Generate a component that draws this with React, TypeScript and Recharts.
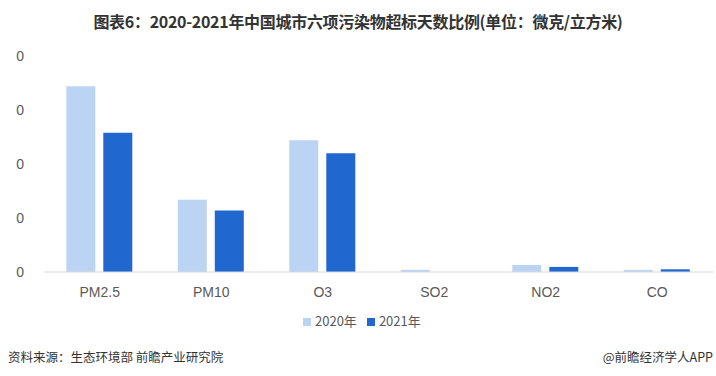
import { BarChart, Bar, XAxis, YAxis, Legend } from "recharts"

// pollutant categories
const POLLUTANTS = ["PM2.5", "PM10", "O3", "SO2", "NO2", "CO"]
// share of exceedance days
const Y2020 = [0.172, 0.067, 0.122, 0.002, 0.0065, 0.002]
const Y2021 = [0.129, 0.057, 0.11, 0, 0.0047, 0.0025]
const Y_TICKS = [0, 0.05, 0.1, 0.15, 0.2]

const data = POLLUTANTS.map((name, i) => ({ name, y2020: Y2020[i], y2021: Y2021[i] }))

const FONT = '"Noto Sans CJK SC", "Noto Sans", sans-serif'
const AXIS_FONT = '"Liberation Sans", "Noto Sans CJK SC", sans-serif'

export default function App() {
  return (
    <div style={{ position: "absolute", left: 0, top: 0, width: 716, height: 376, background: "#fff", fontFamily: FONT }}>
      <div
        style={{
          position: "absolute",
          top: 9,
          left: 0,
          width: 716,
          textAlign: "center",
          fontSize: 16,
          fontWeight: 700,
          color: "#333",
          letterSpacing: -0.3,
        }}
      >
        图表6：2020-2021年中国城市六项污染物超标天数比例(单位：微克/立方米)
      </div>

      <div style={{ position: "absolute", top: 0, left: 0 }}>
        <BarChart
          width={716}
          height={376}
          data={data}
          margin={{ top: 56, right: 3, bottom: 55, left: 0 }}
          barCategoryGap="20%"
          barGap={8}
        >
          <XAxis
            dataKey="name"
            tickLine={false}
            axisLine={{ stroke: "#d9d9d9" }}
            tickMargin={9}
            tick={{ fill: "#595959", fontSize: 14, fontFamily: AXIS_FONT }}
            interval={0}
          />
          <YAxis
            width={44}
            domain={[0, 0.2]}
            ticks={Y_TICKS}
            axisLine={false}
            tickLine={false}
            tickMargin={14}
            tickFormatter={(v: number) => v.toFixed(0)}
            tick={{ fill: "#595959", fontSize: 14, fontFamily: AXIS_FONT }}
          />
          <Legend
            iconType="square"
            iconSize={8}
            wrapperStyle={{ top: 311, left: 303, width: "auto", fontSize: 13, fontFamily: FONT }}
            formatter={(value: string) => <span style={{ color: "#595959" }}>{value}</span>}
          />
          <Bar dataKey="y2020" name="2020年" fill="#bcd4f3" isAnimationActive={false} />
          <Bar dataKey="y2021" name="2021年" fill="#2067d0" isAnimationActive={false} />
        </BarChart>
      </div>

      <div style={{ position: "absolute", left: 8, top: 347, fontSize: 12.5, color: "#333" }}>
        资料来源：生态环境部 前瞻产业研究院
      </div>
      <div style={{ position: "absolute", right: 3, top: 347, fontSize: 12.5, color: "#333" }}>
        @前瞻经济学人APP
      </div>
    </div>
  )
}
